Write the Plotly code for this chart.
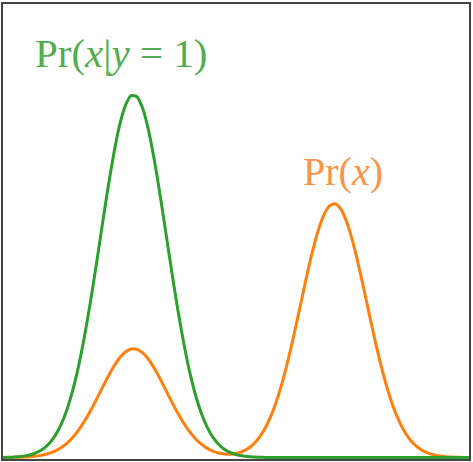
import plotly.graph_objects as go

# sample positions (data units)
x_vals = [i * 0.125 for i in range(81)]

# Pr(x | y = 1) (peak normalised to 1)
pr_x_given_y1 = [
    0.0004, 0.0008, 0.0016, 0.0029, 0.0053, 0.0092, 0.0155, 0.0253, 0.0402, 0.0619,
    0.0922, 0.1334, 0.1870, 0.2542, 0.3349, 0.4279, 0.5300, 0.6364, 0.7408, 0.8359,
    0.9146, 0.9701, 0.9975, 0.9944, 0.9611, 0.9005, 0.8180, 0.7204, 0.6150, 0.5091,
    0.4085, 0.3178, 0.2397, 0.1752, 0.1242, 0.0854, 0.0569, 0.0367, 0.0230, 0.0140,
    0.0082, 0.0047, 0.0026, 0.0014, 0.0007, 0.0004, 0.0002, 0.0001, 0.0, 0.0,
    0.0, 0.0, 0.0, 0.0, 0.0, 0.0, 0.0, 0.0, 0.0, 0.0,
    0.0, 0.0, 0.0, 0.0, 0.0, 0.0, 0.0, 0.0, 0.0, 0.0,
    0.0, 0.0, 0.0, 0.0, 0.0, 0.0, 0.0, 0.0, 0.0, 0.0, 0.0,
]

# Pr(x)
pr_x = [
    0.0001, 0.0003, 0.0005, 0.0009, 0.0016, 0.0028, 0.0046, 0.0076, 0.0121, 0.0186,
    0.0277, 0.0400, 0.0561, 0.0763, 0.1005, 0.1284, 0.1590, 0.1909, 0.2222, 0.2508,
    0.2744, 0.2910, 0.2993, 0.2983, 0.2883, 0.2702, 0.2454, 0.2161, 0.1845, 0.1527,
    0.1226, 0.0953, 0.0720, 0.0527, 0.0375, 0.0260, 0.0179, 0.0126, 0.0098, 0.0094,
    0.0113, 0.0160, 0.0242, 0.0369, 0.0555, 0.0810, 0.1149, 0.1580, 0.2108, 0.2726,
    0.3418, 0.4155, 0.4898, 0.5597, 0.6199, 0.6657, 0.6931, 0.6996, 0.6845, 0.6494,
    0.5972, 0.5326, 0.4603, 0.3858, 0.3134, 0.2469, 0.1885, 0.1395, 0.1002, 0.0697,
    0.0470, 0.0307, 0.0195, 0.0120, 0.0071, 0.0041, 0.0023, 0.0013, 0.0007, 0.0003, 0.0002,
]

label_green = "Pr(<i>x</i>|<i>y</i> = 1)"
label_orange = "Pr(<i>x</i>)"

GREEN = "#2ca02c"
ORANGE = "#ff7f0e"

fig = go.Figure()
fig.add_trace(go.Scatter(x=x_vals, y=pr_x, mode="lines",
                         line=dict(color=ORANGE, width=3, shape="spline", smoothing=0.6),
                         hoverinfo="skip", showlegend=False))
fig.add_trace(go.Scatter(x=x_vals, y=pr_x_given_y1, mode="lines",
                         line=dict(color=GREEN, width=3, shape="spline", smoothing=0.6),
                         hoverinfo="skip", showlegend=False))

fig.add_annotation(text=label_green, xref="paper", yref="paper", x=0.2545, y=0.892,
                   xanchor="center", yanchor="middle", showarrow=False,
                   font=dict(family="Liberation Serif", size=41, color="#52ad52"))
fig.add_annotation(text=label_orange, xref="paper", yref="paper", x=0.7296, y=0.631,
                   xanchor="center", yanchor="middle", showarrow=False,
                   font=dict(family="Liberation Serif", size=40, color="#f8944a"))

axis_common = dict(showgrid=False, zeroline=False, showticklabels=False, ticks="",
                   showline=True, mirror=True, linecolor="#444444", linewidth=2)
fig.update_xaxes(range=[0, 10], **axis_common)
fig.update_yaxes(range=[-0.004, 1.25], **axis_common)

fig.update_layout(width=473, height=462, margin=dict(l=3, r=4, t=4, b=3),
                  plot_bgcolor="white", paper_bgcolor="white")

fig.write_html("out.html", config={"displayModeBar": False},
               post_script="document.body.style.margin='0';document.body.style.overflow='hidden';")
